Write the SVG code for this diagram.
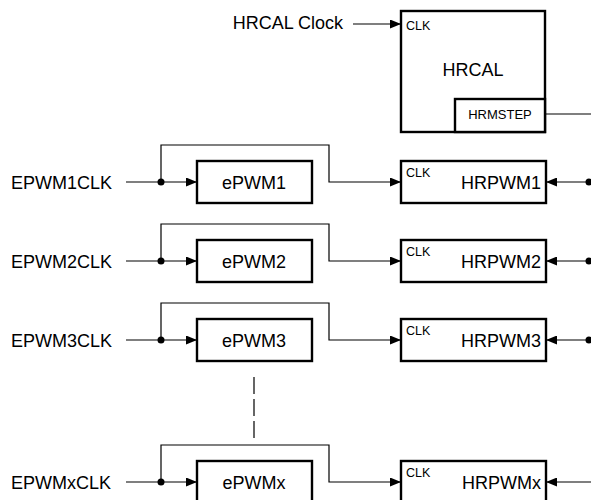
<svg xmlns="http://www.w3.org/2000/svg" width="591" height="500" viewBox="0 0 591 500">
<defs>
<marker id="arr" viewBox="0 0 11 9" refX="11" refY="4.5" markerWidth="11" markerHeight="9" markerUnits="userSpaceOnUse" orient="auto">
<path d="M0,0 L11,4.5 L0,9 Z" fill="#000"/>
</marker>
<style>
text{font-family:"Liberation Sans",Arial,sans-serif;fill:#000}
.lbl{font-size:18px}
.sm{font-size:12.5px}
.box{fill:#fff;stroke:#000;stroke-width:2.4}
.ln{fill:none;stroke:#000;stroke-width:1.2}
.dot{fill:#000}
</style>
</defs>
<rect width="591" height="500" fill="#fff"/>
<g id="connectors">
<line class="ln" x1="353" y1="24" x2="401" y2="24" marker-end="url(#arr)"/>
<line class="ln" x1="545" y1="114" x2="591" y2="114"/>
<!-- row 1 -->
<line class="ln" x1="126" y1="182" x2="197" y2="182" marker-end="url(#arr)"/>
<polyline class="ln" points="161,182 161,145 329,145 329,182 401,182" marker-end="url(#arr)"/>
<line class="ln" x1="589" y1="182" x2="546" y2="182" marker-end="url(#arr)"/>
<circle class="dot" cx="161" cy="182" r="3.5"/>
<circle class="dot" cx="589" cy="182" r="3.5"/>
<!-- row 2 -->
<line class="ln" x1="126" y1="261" x2="197" y2="261" marker-end="url(#arr)"/>
<polyline class="ln" points="161,261 161,224 329,224 329,261 401,261" marker-end="url(#arr)"/>
<line class="ln" x1="589" y1="261" x2="546" y2="261" marker-end="url(#arr)"/>
<circle class="dot" cx="161" cy="261" r="3.5"/>
<circle class="dot" cx="589" cy="261" r="3.5"/>
<!-- row 3 -->
<line class="ln" x1="126" y1="340" x2="197" y2="340" marker-end="url(#arr)"/>
<polyline class="ln" points="161,340 161,303 329,303 329,340 401,340" marker-end="url(#arr)"/>
<line class="ln" x1="589" y1="340" x2="546" y2="340" marker-end="url(#arr)"/>
<circle class="dot" cx="161" cy="340" r="3.5"/>
<circle class="dot" cx="589" cy="340" r="3.5"/>
<!-- row x -->
<line class="ln" x1="126" y1="482" x2="197" y2="482" marker-end="url(#arr)"/>
<polyline class="ln" points="161,482 161,445 329,445 329,482 401,482" marker-end="url(#arr)"/>
<line class="ln" x1="591" y1="482" x2="546" y2="482" marker-end="url(#arr)"/>
<circle class="dot" cx="161" cy="482" r="3.5"/>
<!-- dashed continuation -->
<line class="ln" x1="254" y1="377" x2="254" y2="438" stroke-dasharray="17 5"/>
</g>
<g id="hrcal-clock-label">
<text class="lbl" x="343" y="29" text-anchor="end">HRCAL Clock</text>
</g>
<g id="hrcal">
<rect class="box" x="401" y="11" width="144" height="121"/>
<text class="sm" x="406" y="30">CLK</text>
<text class="lbl" x="473" y="76" text-anchor="middle">HRCAL</text>
</g>
<g id="hrmstep">
<rect class="box" x="455" y="99" width="90" height="33"/>
<text x="500" y="119" font-size="13" text-anchor="middle">HRMSTEP</text>
</g>
<g id="row1">
<text class="lbl" x="11" y="189">EPWM1CLK</text>
<g id="epwm1"><rect class="box" x="197" y="161" width="115" height="42"/><text class="lbl" x="254" y="189" text-anchor="middle">ePWM1</text></g>
<g id="hrpwm1"><rect class="box" x="401" y="161" width="145" height="42"/><text class="sm" x="406" y="177">CLK</text><text class="lbl" x="541" y="189" text-anchor="end">HRPWM1</text></g>
</g>
<g id="row2">
<text class="lbl" x="11" y="268">EPWM2CLK</text>
<g id="epwm2"><rect class="box" x="197" y="240" width="115" height="42"/><text class="lbl" x="254" y="268" text-anchor="middle">ePWM2</text></g>
<g id="hrpwm2"><rect class="box" x="401" y="240" width="145" height="42"/><text class="sm" x="406" y="256">CLK</text><text class="lbl" x="541" y="268" text-anchor="end">HRPWM2</text></g>
</g>
<g id="row3">
<text class="lbl" x="11" y="347">EPWM3CLK</text>
<g id="epwm3"><rect class="box" x="197" y="319" width="115" height="42"/><text class="lbl" x="254" y="347" text-anchor="middle">ePWM3</text></g>
<g id="hrpwm3"><rect class="box" x="401" y="319" width="145" height="42"/><text class="sm" x="406" y="335">CLK</text><text class="lbl" x="541" y="347" text-anchor="end">HRPWM3</text></g>
</g>
<g id="rowx">
<text class="lbl" x="11" y="489">EPWMxCLK</text>
<g id="epwmx"><rect class="box" x="197" y="461" width="115" height="45"/><text class="lbl" x="254" y="489" text-anchor="middle">ePWMx</text></g>
<g id="hrpwmx"><rect class="box" x="401" y="461" width="145" height="45"/><text class="sm" x="406" y="477">CLK</text><text class="lbl" x="541" y="489" text-anchor="end">HRPWMx</text></g>
</g>
</svg>
